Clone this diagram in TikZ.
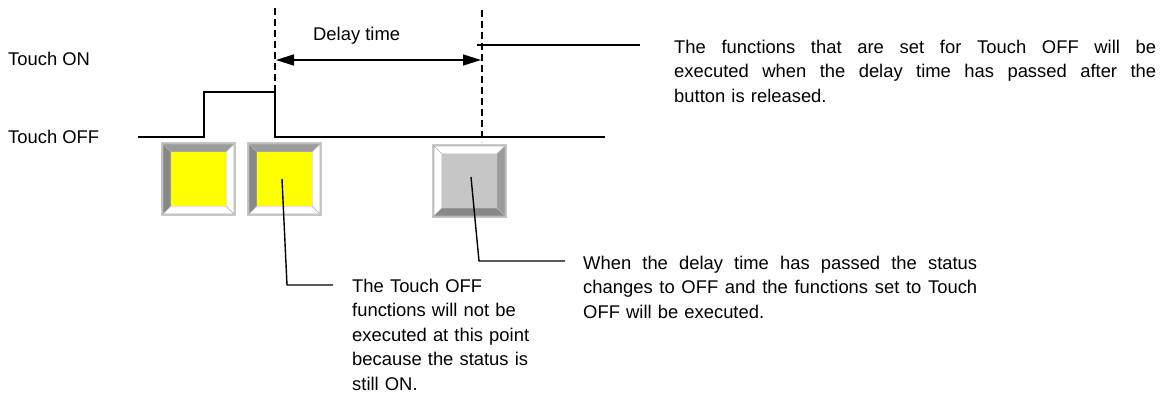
\documentclass[tikz,border=0pt]{standalone}
\usepackage{fontspec}
\setmainfont{Liberation Sans}
\usetikzlibrary{arrows.meta}
\definecolor{btnrim}{HTML}{C8C8C8}
\definecolor{btnedge}{HTML}{B4B4B4}
\definecolor{bevdark}{HTML}{888888}
\definecolor{bevmid}{HTML}{9C9C9C}
\definecolor{bevlight}{HTML}{FFFFFF}
\definecolor{faceyellow}{HTML}{FFFF00}
\definecolor{facegray}{HTML}{C6C6C6}
\newcommand{\jline}[2]{\leavevmode\hbox to #1{\spaceskip=0.278em plus 1fil minus 0.1em\relax #2}}
\newcommand{\mybutton}[6]{% x y face top left bottom/right
\begin{scope}[shift={(#1,#2)}]
\fill[btnrim] (0,0) rectangle (75,74);
\filldraw[fill=#4,draw=btnedge,line width=0.6pt] (2,2) -- (73,2) -- (65,10) -- (10,10) -- cycle;
\filldraw[fill=#5,draw=btnedge,line width=0.6pt] (2,2) -- (10,10) -- (10,64) -- (2,72) -- cycle;
\filldraw[fill=#6,draw=btnedge,line width=0.6pt] (2,72) -- (10,64) -- (65,64) -- (73,72) -- cycle;
\filldraw[fill=#6,draw=btnedge,line width=0.6pt] (73,2) -- (73,72) -- (65,64) -- (65,10) -- cycle;
\fill[#3] (10,10) rectangle (65,64);
\end{scope}}
\begin{document}
\begin{tikzpicture}[x=1pt,y=-1pt,
  txt/.style={font=\fontsize{18.4}{24.5}\selectfont,inner sep=0pt,anchor=base west},
  sig/.style={line width=1.6pt,line join=miter},
  guide/.style={line width=1.4pt,dash pattern=on 7pt off 4pt},
  leader/.style={line width=1.4pt},
  dim/.style={line width=1.4pt,{Triangle[length=18pt,width=11pt]}-{Triangle[length=18pt,width=11pt]}}]
\useasboundingbox (0,0) rectangle (1166,396);
\fill[white] (0,0) rectangle (1166,396);

% labels
\node[txt] (lon) at (8,66) {Touch ON};
\node[txt] (loff) at (8,143) {Touch OFF};
\node[txt] (ldelay) at (313,41) {Delay time};

% guides
\coordinate (g1t) at (275,8);
\coordinate (g1b) at (275,137);
\coordinate (g2t) at (482,10);
\coordinate (g2b) at (482,142);
\draw[guide] (g1t) -- (g1b);
\draw[guide] (g2t) -- (g2b);

% delay arrow
\coordinate (da) at (276,60);
\coordinate (db) at (481,60);
\draw[dim] (da) -- (db);

% signal
\coordinate (s0) at (138,137);
\coordinate (s1) at (204,137);
\coordinate (s2) at (204,92);
\coordinate (s3) at (275,92);
\coordinate (s4) at (275,137);
\coordinate (s5) at (605,137);
\draw[sig] (s0) -- (s1) -- (s2) -- (s3) -- (s4) -- (s5);

% buttons
\mybutton{161}{142}{faceyellow}{bevmid}{bevdark}{bevlight}
\mybutton{247}{142}{faceyellow}{bevmid}{bevdark}{bevlight}
\begin{scope}[shift={(432,144)}]
\fill[btnrim] (0,0) rectangle (75,74);
\filldraw[fill=white,draw=btnedge,line width=0.6pt] (2,2) -- (73,2) -- (65,10) -- (10,10) -- cycle;
\filldraw[fill=white,draw=btnedge,line width=0.6pt] (2,2) -- (10,10) -- (10,64) -- (2,72) -- cycle;
\filldraw[fill=bevdark,draw=btnedge,line width=0.6pt] (2,72) -- (10,64) -- (65,64) -- (73,72) -- cycle;
\filldraw[fill=bevdark!85!white,draw=btnedge,line width=0.6pt] (73,2) -- (73,72) -- (65,64) -- (65,10) -- cycle;
\fill[facegray] (10,10) rectangle (65,64);
\end{scope}

% top-right note
\coordinate (t1) at (477,45);
\coordinate (t2) at (640,45);
\draw[leader] (t1) -- (t2);
\node[txt,text width=482pt] (ntop) at (674,53) {\jline{482pt}{The functions that are set for Touch OFF will be}\\\jline{482pt}{executed when the delay time has passed after the}\\button is released.};

% middle note
\coordinate (m1) at (282,179);
\coordinate (m2) at (287,285);
\coordinate (m3) at (333,285);
\draw[leader] (m1) -- (m2) -- (m3);
\node[txt,text width=200pt] (nmid) at (352,292) {The Touch OFF\\functions will not be\\executed at this point\\because the status is\\still ON.};

% bottom-right note
\coordinate (b1) at (471,177);
\coordinate (b2) at (479,261);
\coordinate (b3) at (565,261);
\draw[leader] (b1) -- (b2) -- (b3);
\node[txt,text width=394pt] (nbot) at (583,269) {\jline{394pt}{When the delay time has passed the status}\\\jline{394pt}{changes to OFF and the functions set to Touch}\\OFF will be executed.};
\end{tikzpicture}
\end{document}
